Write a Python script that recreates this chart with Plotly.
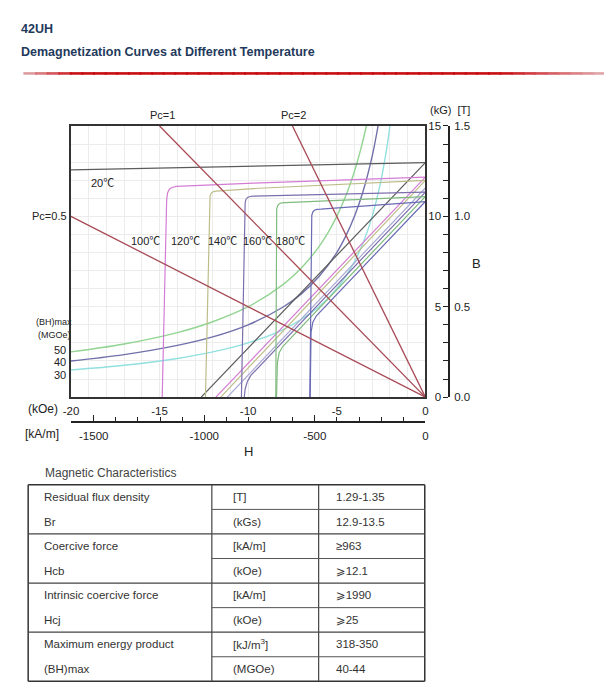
import plotly.graph_objects as go

# The page keeps the browser's default 8px body margin, so the figure is
# 600x680 and every page-pixel coordinate below is shifted by that margin.
PAGE_W, PAGE_H, MARGIN = 616, 696, 8
W, HT = PAGE_W - 2 * MARGIN, PAGE_H - 2 * MARGIN
CHART_FONT = "Liberation Sans, Arial, Noto Sans CJK SC, sans-serif"
TEXT_FONT = "Liberation Sans, Arial, DejaVu Sans, sans-serif"
GRID = "#ececec"

# ---------------- data (H in kOe, B/J in kG) ----------------
title_grade = "42UH"
title_text = "Demagnetization Curves at Different Temperature"

temp_labels = ["20℃", "100℃", "120℃", "140℃", "160℃", "180℃"]
temp_colors = ["#5b5b5b", "#d47cd4", "#bdbd8a", "#7d6fae", "#7fba7f", "#6b6bb5"]

# intrinsic (J-H) curves
j20_h = [-20, 0]
j20_b = [12.57, 12.97]
j100_h = [-14.85, -14.66, -14.6, -14.55, -14.45, -14.3, -14.05, -9.7, 0]
j100_b = [0, 9.0, 10.9, 11.3, 11.5, 11.6, 11.66, 11.84, 12.17]
j120_h = [-12.41, -12.22, -12.19, -12.15, -12.07, -11.95, -11.8, -9.7, 0]
j120_b = [0, 9.0, 10.9, 11.15, 11.3, 11.37, 11.4, 11.54, 11.99]
j140_h = [-10.38, -10.2, -10.17, -10.12, -10.03, -9.9, -9.7, 0]
j140_b = [0, 9.0, 10.75, 10.95, 11.05, 11.1, 11.12, 11.34]
j160_h = [-8.44, -8.41, -8.39, -8.33, -8.24, -8.1, -7.9, 0]
j160_b = [0, 9.2, 10.4, 10.6, 10.7, 10.75, 10.76, 11.09]
j180_h = [-6.52, -6.43, -6.41, -6.35, -6.26, -6.12, -5.9, 0]
j180_b = [0, 9.0, 10.05, 10.25, 10.34, 10.39, 10.4, 10.82]

# normal (B-H) curves
b20_h = [0, -12.65]
b20_b = [12.97, 0]
b100_h = [0, -11.82]
b100_b = [12.17, 0]
b120_h = [0, -11.55]
b120_b = [11.99, 0]
bx_h = [0, -11.18]
bx_b = [11.57, 0]
b140_h = [0, -9.85, -10.05, -10.17, -10.22]
b140_b = [11.34, 1.2, 0.85, 0.45, 0]
b160_h = [0, -8.05, -8.25, -8.35, -8.4]
b160_b = [11.09, 2.8, 2.45, 1.9, 0]
b180_h = [0, -6.15, -6.35, -6.45, -6.5]
b180_b = [10.82, 4.5, 4.15, 3.6, 0]
bx_color = "#a9a9d4"

# permeance (load) lines
pc_labels = ["Pc=1", "Pc=2", "Pc=0.5"]
pc1_h = [0, -15]
pc1_b = [0, 15]
pc2_h = [0, -7.5]
pc2_b = [0, 15]
pc05_h = [0, -20]
pc05_b = [0, 10]
pc_color = "#a84a55"

# (BH)max iso-energy curves
bh_labels = ["50", "40", "30"]
bh_colors = ["#92d492", "#7070aa", "#92e0e0"]
bh50_h = [-20, -17, -14, -12, -10, -8, -7, -6, -5.5, -5, -4.5, -4, -3.7, -3.33, -3.1]
bh50_b = [2.5, 2.94, 3.57, 4.17, 5.0, 6.25, 7.14, 8.33, 9.09, 10.0, 11.11, 12.5, 13.51, 15.0, 16.1]
bh40_h = [-20, -17, -14, -12, -10, -8, -7, -6, -5, -4.5, -4, -3.5, -3, -2.67, -2.5]
bh40_b = [2.0, 2.35, 2.86, 3.33, 4.0, 5.0, 5.71, 6.67, 8.0, 8.89, 10.0, 11.43, 13.33, 15.0, 16.0]
bh30_h = [-20, -17, -14, -12, -10, -8, -6, -5, -4, -3.5, -3, -2.5, -2.2, -2.0, -1.9]
bh30_b = [1.5, 1.76, 2.14, 2.5, 3.0, 3.75, 5.0, 6.0, 7.5, 8.57, 10.0, 12.0, 13.64, 15.0, 15.8]

# axes ticks
koe_ticks = [-20, -15, -10, -5, 0]
koe_ticklabels = ["-20", "-15", "-10", "-5", "0"]
kam_ticks = [-1500, -1000, -500, 0]
kam_ticklabels = ["-1500", "-1000", "-500", "0"]
kg_ticks = [0, 5, 10, 15]
kg_ticklabels = ["0", "5", "10", "15"]
t_ticks = [0, 0.5, 1.0, 1.5]
t_ticklabels = ["0.0", "0.5", "1.0", "1.5"]

# table
table_title = "Magnetic Characteristics"
table_labels = ["Residual flux density", "Br", "Coercive force", "Hcb",
                "Intrinsic coercive force", "Hcj", "Maximum energy product", "(BH)max"]
table_units = ["[T]", "(kGs)", "[kA/m]", "(kOe)", "[kA/m]", "(kOe)", "[kJ/m<sup>3</sup>]", "(MGOe)"]
table_values = ["1.29-1.35", "12.9-13.5", "≥963", "⩾12.1", "⩾1990", "⩾25", "318-350", "40-44"]

# ---------------- figure ----------------
fig = go.Figure()


def add_line(h, b, color, width=1.2):
    fig.add_trace(go.Scatter(x=h, y=b, mode="lines", line=dict(color=color, width=width),
                             showlegend=False, hoverinfo="skip"))


for h, b, c in [(bh50_h, bh50_b, bh_colors[0]), (bh40_h, bh40_b, bh_colors[1]),
                (bh30_h, bh30_b, bh_colors[2])]:
    fig.add_trace(go.Scatter(x=h, y=b, mode="lines", line=dict(color=c, width=1.4, shape="spline"),
                             showlegend=False, hoverinfo="skip"))

j_curves = [(j20_h, j20_b), (j100_h, j100_b), (j120_h, j120_b),
            (j140_h, j140_b), (j160_h, j160_b), (j180_h, j180_b)]
b_curves = [(b20_h, b20_b), (b100_h, b100_b), (b120_h, b120_b),
            (b140_h, b140_b), (b160_h, b160_b), (b180_h, b180_b)]
add_line(bx_h, bx_b, bx_color)
for (h, b), c in zip(b_curves, temp_colors):
    add_line(h, b, c)
for (h, b), c in zip(j_curves, temp_colors):
    add_line(h, b, c)

for h, b in [(pc1_h, pc1_b), (pc2_h, pc2_b), (pc05_h, pc05_b)]:
    add_line(h, b, pc_color, 1.3)

# dummy traces to activate extra axes
fig.add_trace(go.Scatter(x=[None], y=[None], yaxis="y2", showlegend=False, hoverinfo="skip"))
fig.add_trace(go.Scatter(x=[None], y=[None], yaxis="y3", showlegend=False, hoverinfo="skip"))
fig.add_trace(go.Scatter(x=[None], y=[None], xaxis="x2", showlegend=False, hoverinfo="skip"))


def PX(x):
    return (x - MARGIN) / W


def PY(y):
    return 1 - (y - MARGIN) / HT


def P(x, y):
    return PX(x), PY(y)


annotations = []


def ann(text, x, y, size=11, color="#222", xanchor="center", family=CHART_FONT):
    px, py = P(x, y)
    annotations.append(dict(text=text, x=px, y=py, xref="paper", yref="paper", showarrow=False,
                            xanchor=xanchor, yanchor="middle",
                            font=dict(size=size, color=color, family=family)))


# header
ann("<b>" + title_grade + "</b>", 11, 23, size=12.5, color="#1f3a5c", xanchor="left", family=TEXT_FONT)
ann("<b>" + title_text + "</b>", 11, 46.5, size=12.5, color="#1f3a5c", xanchor="left", family=TEXT_FONT)

# chart labels
ann(pc_labels[0], 157, 111)
ann(pc_labels[1], 291, 111)
ann(pc_labels[2], 42.5, 214)
ann(temp_labels[0], 96, 180)
for lab, cx in zip(temp_labels[1:], [140, 181, 218, 254, 288]):
    ann(lab, cx, 239)
ann("(BH)max", 47, 322, size=9)
ann("(MGOe)", 47, 335, size=9)
for lab, cy in zip(bh_labels, [350, 362.5, 375]):
    ann(lab, 53, cy, size=11)
ann("(kOe)", 35, 410, size=12)
ann("[kA/m]", 34.5, 436, size=12)
ann("H", 245, 453, size=13)
ann("B", 477, 262, size=13)
ann("(kG)  [T]", 450, 105.5, size=11)

# table
ann(table_title, 35, 475.5, size=12, color="#444", xanchor="left", family=TEXT_FONT)
row_h = 25
top = 487.3
for i, (a, b, c) in enumerate(zip(table_labels, table_units, table_values)):
    cy = top + row_h * (i + 0.5)
    ann(a, 34.5, cy, size=11.5, color="#333", xanchor="left", family=TEXT_FONT)
    ann(b, 227, cy, size=11.5, color="#333", xanchor="left", family=TEXT_FONT)
    ann(c, 332, cy, size=11.5, color="#333", xanchor="left", family=TEXT_FONT)

shapes = []


def seg(x0, y0, x1, y1, color="#555", width=1.2):
    a0, b0 = P(x0, y0)
    a1, b1 = P(x1, y1)
    shapes.append(dict(type="line", xref="paper", yref="paper", x0=a0, y0=b0, x1=a1, y1=b1,
                       line=dict(color=color, width=width)))


n_rows = len(table_labels)
tx0, tx1, c1, c2 = 20.4, 424.4, 207.5, 316.3
bottom = top + row_h * n_rows
seg(tx0, top, tx1, top, "#333", 1.5)
seg(tx0, bottom, tx1, bottom, "#333", 1.5)
seg(tx0, top, tx0, bottom, "#333", 1.5)
seg(tx1, top, tx1, bottom, "#333", 1.5)
seg(c1, top, c1, bottom, "#444", 1.2)
seg(c2, top, c2, bottom, "#444", 1.2)
for i in range(1, n_rows):
    y = top + row_h * i
    if i % 2 == 0:
        seg(tx0, y, tx1, y, "#444", 1.2)
    else:
        seg(c1, y, tx1, y, "#555", 1.0)

# red gradient rule under the title (overlapping opaque pieces)
N = 50
rx0, rx1, ry = 15.5, 607, 68.5
step = (rx1 - rx0) / N
for k in range(N):
    xa = rx0 + step * k
    xb = min(rx1, xa + step + 2)
    xm = xa + step / 2
    if xm < 70:
        a = (xm - rx0) / (70 - rx0)
    elif xm > 500:
        a = max(0.0, (rx1 - xm) / (rx1 - 500))
    else:
        a = 1.0
    a = 0.15 + 0.85 * a
    r = int(200 + (1 - a) * 30)
    g = int(12 + (1 - a) * 190)
    bl = int(16 + (1 - a) * 190)
    seg(xa, ry, xb, ry, "rgb(%d,%d,%d)" % (r, g, bl), 2.6)

axis_font = dict(size=11.5, family=CHART_FONT, color="#222")

fig.update_layout(
    width=W, height=HT, autosize=False,
    margin=dict(l=0, r=0, t=0, b=0),
    paper_bgcolor="white", plot_bgcolor="white",
    showlegend=False,
    xaxis=dict(domain=[PX(64), PX(425)], range=[-20, 0], showline=True, mirror=True,
               linecolor="#333", linewidth=1.5, zeroline=False,
               tickmode="array", tickvals=koe_ticks, ticktext=koe_ticklabels, ticks="",
               tickfont=axis_font, ticklabelstandoff=2,
               showgrid=True, gridcolor=GRID, gridwidth=1,
               minor=dict(dtick=1, tick0=0, showgrid=True, gridcolor=GRID, gridwidth=1, ticks=""),
               fixedrange=True),
    yaxis=dict(domain=[PY(398), PY(122)], range=[0, 15], showline=True, mirror=True,
               linecolor="#333", linewidth=1.5, zeroline=False, showticklabels=False, ticks="",
               dtick=1, showgrid=True, gridcolor=GRID, gridwidth=1, fixedrange=True),
    yaxis2=dict(overlaying="y", anchor="free", position=PX(449.3), side="left",
                range=[0, 15], showline=True, linecolor="#222", linewidth=1.5,
                showgrid=False, zeroline=False, tickmode="array", tickvals=kg_ticks,
                ticktext=kg_ticklabels, ticks="outside", ticklen=5, tickwidth=1.2,
                tickcolor="#222", tickfont=axis_font,
                minor=dict(dtick=1, tick0=0, ticks="outside", ticklen=5, tickwidth=1.2,
                           tickcolor="#222", showgrid=False),
                fixedrange=True),
    yaxis3=dict(overlaying="y", anchor="free", position=PX(449.3), side="right",
                range=[0, 1.5], showline=False, showgrid=False, zeroline=False,
                tickmode="array", tickvals=t_ticks, ticktext=t_ticklabels, ticks="",
                tickfont=axis_font, ticklabelstandoff=4, fixedrange=True),
    xaxis2=dict(overlaying="x", anchor="free", position=PY(423.3), side="bottom",
                range=[-1603, 0], showline=True, linecolor="#222", linewidth=1.5,
                showgrid=False, zeroline=False, tickmode="array", tickvals=kam_ticks,
                ticktext=kam_ticklabels, ticks="inside", ticklen=6, tickwidth=1.2,
                tickcolor="#222", tickfont=axis_font, ticklabelstandoff=3,
                minor=dict(dtick=100, tick0=0, ticks="inside", ticklen=4, tickwidth=1.2,
                           tickcolor="#222", showgrid=False),
                fixedrange=True),
    annotations=annotations,
    shapes=shapes,
)

fig.write_html("out.html", config={"displayModeBar": False})
